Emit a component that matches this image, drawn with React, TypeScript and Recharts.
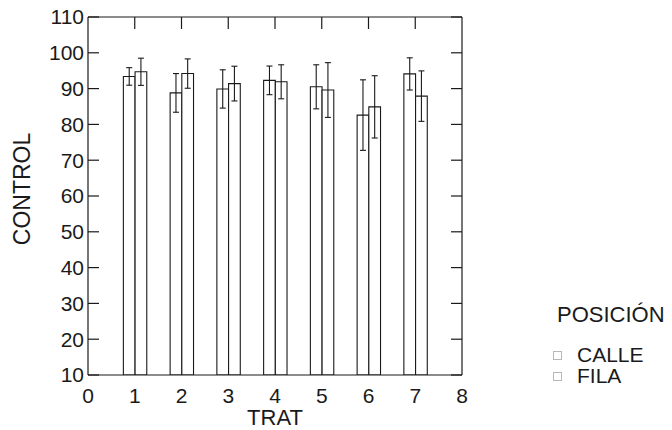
import {
  BarChart,
  Bar,
  XAxis,
  YAxis,
  ErrorBar,
  Legend,
  Label,
} from "recharts";

const trat = [1, 2, 3, 4, 5, 6, 7];
const calle = [93.4, 88.8, 89.9, 92.3, 90.5, 82.6, 94.1];
const calleErr = [2.45, 5.4, 5.35, 4.0, 6.15, 9.85, 4.5];
const fila = [94.7, 94.2, 91.4, 91.9, 89.6, 84.9, 87.9];
const filaErr = [3.8, 4.1, 4.85, 4.75, 7.65, 8.7, 7.05];

const xTicks = [0, 1, 2, 3, 4, 5, 6, 7, 8];
const yTicks = [10, 20, 30, 40, 50, 60, 70, 80, 90, 100, 110];
const seriesNames = ["CALLE", "FILA"];
const legendTitle = "POSICIÓN";

const data = trat.map((t, i) => ({
  trat: t,
  calle: calle[i],
  calleErr: calleErr[i],
  fila: fila[i],
  filaErr: filaErr[i],
}));

const font = "'Liberation Sans', Arial, sans-serif";
const ink = "#1a1a1a";
const tickStyle = { fontSize: 21, fill: ink, fontFamily: font };
const line = { stroke: ink, strokeWidth: 1.2 };
// inner tick marks only, no text
const noLabel = () => <g />;

const LegendBox = ({ payload }: any) => (
  <div style={{ fontFamily: font, color: ink, textAlign: "left" }}>
    <div style={{ fontSize: 22, lineHeight: "21px", marginLeft: 4 }}>
      {legendTitle}
    </div>
    <div style={{ marginTop: 19 }}>
      {(payload || []).map((p: any) => (
        <div
          key={p.value}
          style={{ display: "flex", alignItems: "center", height: 21 }}
        >
          <span
            style={{
              width: 7,
              height: 7,
              border: "1px solid #b8b8b8",
              marginRight: 15,
              marginTop: 1,
            }}
          />
          <span style={{ fontSize: 21, lineHeight: "21px" }}>{p.value}</span>
        </div>
      ))}
    </div>
  </div>
);

const App = () => {
  return (
    <div
      style={{
        position: "absolute",
        left: 0,
        top: 0,
        width: 672,
        height: 430,
        background: "#fff",
      }}
    >
      <BarChart
        width={672}
        height={430}
        data={data}
        margin={{ top: 17, right: 210, bottom: 0, left: 0 }}
        barGap={0}
      >
        <XAxis
          dataKey="trat"
          type="number"
          domain={[0, 8]}
          ticks={xTicks}
          allowDataOverflow
          height={55}
          tickLine={false}
          tickSize={10}
          tickMargin={3}
          axisLine={line}
          tick={tickStyle}
        >
          <Label
            content={({ viewBox }: any) => (
              <text
                x={viewBox.x + viewBox.width / 2}
                y={viewBox.y + 50}
                textAnchor="middle"
                style={{ fontSize: 22, fill: ink, fontFamily: font }}
              >
                TRAT
              </text>
            )}
          />
        </XAxis>
        <XAxis
          xAxisId="top"
          dataKey="trat"
          orientation="top"
          type="number"
          domain={[0, 8]}
          ticks={trat}
          allowDataOverflow
          mirror
          height={1}
          tick={noLabel}
          tickSize={12}
          tickLine={line}
          axisLine={line}
        />
        <YAxis
          type="number"
          domain={[10, 110]}
          ticks={yTicks}
          allowDataOverflow
          width={88}
          tickLine={false}
          tickSize={2}
          tickMargin={2}
          axisLine={line}
          tick={tickStyle}
        >
          <Label
            content={({ viewBox }: any) => {
              const cx = 22;
              const cy = viewBox.y + viewBox.height / 2 - 7;
              return (
                <text
                  x={cx}
                  y={cy}
                  transform={`rotate(-90 ${cx} ${cy})`}
                  textAnchor="middle"
                  dominantBaseline="central"
                  style={{ fontSize: 23, fill: ink, fontFamily: font }}
                >
                  CONTROL
                </text>
              );
            }}
          />
        </YAxis>
        <YAxis
          yAxisId="leftIn"
          orientation="left"
          type="number"
          domain={[10, 110]}
          ticks={yTicks}
          allowDataOverflow
          mirror
          width={1}
          tick={noLabel}
          tickSize={11}
          axisLine={false}
          tickLine={line}
        />
        <YAxis
          yAxisId="right"
          orientation="right"
          type="number"
          domain={[10, 110]}
          ticks={yTicks}
          allowDataOverflow
          mirror
          width={1}
          tick={noLabel}
          tickSize={11}
          axisLine={line}
          tickLine={line}
        />
        <Bar
          dataKey="calle"
          name={seriesNames[0]}
          fill="#fff"
          stroke={ink}
          strokeWidth={1.1}
          barSize={11.7}
          isAnimationActive={false}
        >
          <ErrorBar
            dataKey="calleErr"
            width={3}
            stroke={ink}
            strokeWidth={1.1}
            isAnimationActive={false}
          />
        </Bar>
        <Bar
          dataKey="fila"
          name={seriesNames[1]}
          fill="#fff"
          stroke={ink}
          strokeWidth={1.1}
          barSize={11.7}
          isAnimationActive={false}
        >
          <ErrorBar
            dataKey="filaErr"
            width={3}
            stroke={ink}
            strokeWidth={1.1}
            isAnimationActive={false}
          />
        </Bar>
        <Legend
          layout="vertical"
          align="center"
          verticalAlign="middle"
          wrapperStyle={{ left: 553, top: 304, width: 119 }}
          content={<LegendBox />}
        />
      </BarChart>
    </div>
  );
};

export default App;
